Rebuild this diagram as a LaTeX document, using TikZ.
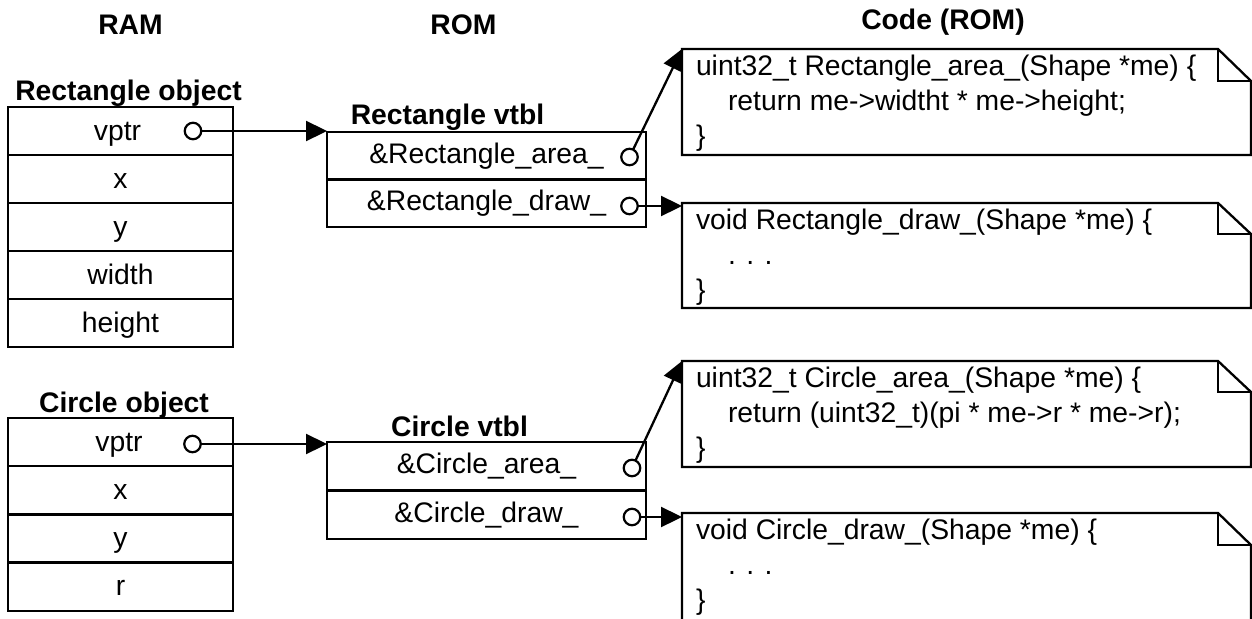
\documentclass[tikz,border=0pt]{standalone}
\usepackage{fontspec}
\setmainfont{Liberation Sans}
\usetikzlibrary{arrows.meta}
\begin{document}
\begin{tikzpicture}[x=1pt,y=-1pt,
  every node/.style={font=\fontsize{28.3}{34}\selectfont, inner sep=0pt, outer sep=0pt},
  head/.style={font=\fontsize{28.3}{34}\selectfont\bfseries, anchor=base},
  objcell/.style={draw, line width=2.3pt, minimum width=225pt, minimum height=48pt,
    text height=22pt, text depth=4pt, anchor=north west},
  vtcell/.style={draw, line width=2.3pt, minimum width=319pt, minimum height=47.5pt,
    text height=21pt, text depth=6pt, anchor=north west},
  ptr/.style={circle, draw, line width=2.2pt, fill=white, minimum size=16.5pt},
  arr/.style={line width=2.3pt, -{Triangle[length=21pt,width=20pt]}},
  boxline/.style={line width=2.3pt, line join=miter},
  codebg/.style={anchor=north west, minimum width=569pt},
  code/.style={anchor=base west}]
\useasboundingbox (0,0) rectangle (1252,618);
\fill[white] (0,0) rectangle (1252,618);

% headings
\node[head] (ram) at (130.5,35) {RAM};
\node[head] (rom) at (463.5,35) {ROM};
\node[head] (coderom) at (943,30) {Code (ROM)};

% Rectangle object
\node[head] (rol) at (128.5,100) {Rectangle object};
\node[objcell] (r1) at (8,107) {\hspace*{-6pt}vptr};
\node[objcell] (r2) at (8,155) {x};
\node[objcell] (r3) at (8,203) {y};
\node[objcell] (r4) at (8,251) {width};
\node[objcell] (r5) at (8,299) {height};
\node[ptr] (rvp) at (193,131) {};

% Rectangle vtbl
\node[head] (rvl) at (447.5,124) {Rectangle vtbl};
\node[vtcell] (rv1) at (327,132) {\&Rectangle\_area\_};
\node[vtcell] (rv2) at (327,179.5) {\&Rectangle\_draw\_};
\node[ptr] (rva) at (629.5,157) {};
\node[ptr] (rvd) at (629.5,206) {};

% Circle object
\node[head] (col) at (124,412) {Circle object};
\node[objcell] (k1) at (8,418) {\hspace*{-3pt}vptr};
\node[objcell] (k2) at (8,466.25) {x};
\node[objcell] (k3) at (8,514.5) {y};
\node[objcell] (k4) at (8,562.75) {r};
\node[ptr] (cvp) at (192.5,444) {};

% Circle vtbl
\node[head] (cvl) at (459.5,436) {Circle vtbl};
\node[vtcell, minimum height=48.5pt] (cv1) at (327,442) {\&Circle\_area\_};
\node[vtcell, minimum height=48.5pt] (cv2) at (327,490.5) {\&Circle\_draw\_};
\node[ptr] (cva) at (632,468) {};
\node[ptr] (cvd) at (632,517) {};

% code boxes
\node[codebg, minimum height=106pt] (c1) at (682,49) {};
\node[codebg, minimum height=105pt] (c2) at (682,203) {};
\node[codebg, minimum height=106pt] (c3) at (682,361) {};
\node[codebg, minimum height=115pt] (c4) at (682,513) {};
\foreach \c/\f in {c1/32,c2/31,c3/31,c4/32}{
  \draw[boxline] (\c.north west) -- ([xshift=-33pt]\c.north east)
    -- ([yshift=-\f pt]\c.north east) -- (\c.south east) -- (\c.south west) -- cycle;
  \draw[boxline] ([xshift=-33pt]\c.north east) |- ([yshift=-\f pt]\c.north east);
}

\node[code] (c1a) at (696,75) {uint32\_t Rectangle\_area\_(Shape *me) \{};
\node[code] (c1b) at (728,110) {return me->widtht * me->height;};
\node[code] (c1c) at (696,145) {\}};

\node[code] (c2a) at (696,229) {void Rectangle\_draw\_(Shape *me) \{};
\node[code] (c2b) at (728,264) {. . .};
\node[code] (c2c) at (696,299) {\}};

\node[code] (c3a) at (696,387) {uint32\_t Circle\_area\_(Shape *me) \{};
\node[code] (c3b) at (728,422) {return (uint32\_t)(pi * me->r * me->r);};
\node[code] (c3c) at (696,457) {\}};

\node[code] (c4a) at (696,539) {void Circle\_draw\_(Shape *me) \{};
\node[code] (c4b) at (728,574) {. . .};
\node[code] (c4c) at (696,609) {\}};

% connectors
\draw[arr] (rvp) -- (rvp -| rv1.west);
\draw[arr] (rva) -- (c1.north west);
\draw[arr] (rvd) -- (rvd -| c2.west);
\draw[arr] (cvp) -- (cvp -| cv1.west);
\draw[arr] (cva) -- (c3.north west);
\draw[arr] (cvd) -- (cvd -| c4.west);
\end{tikzpicture}
\end{document}
